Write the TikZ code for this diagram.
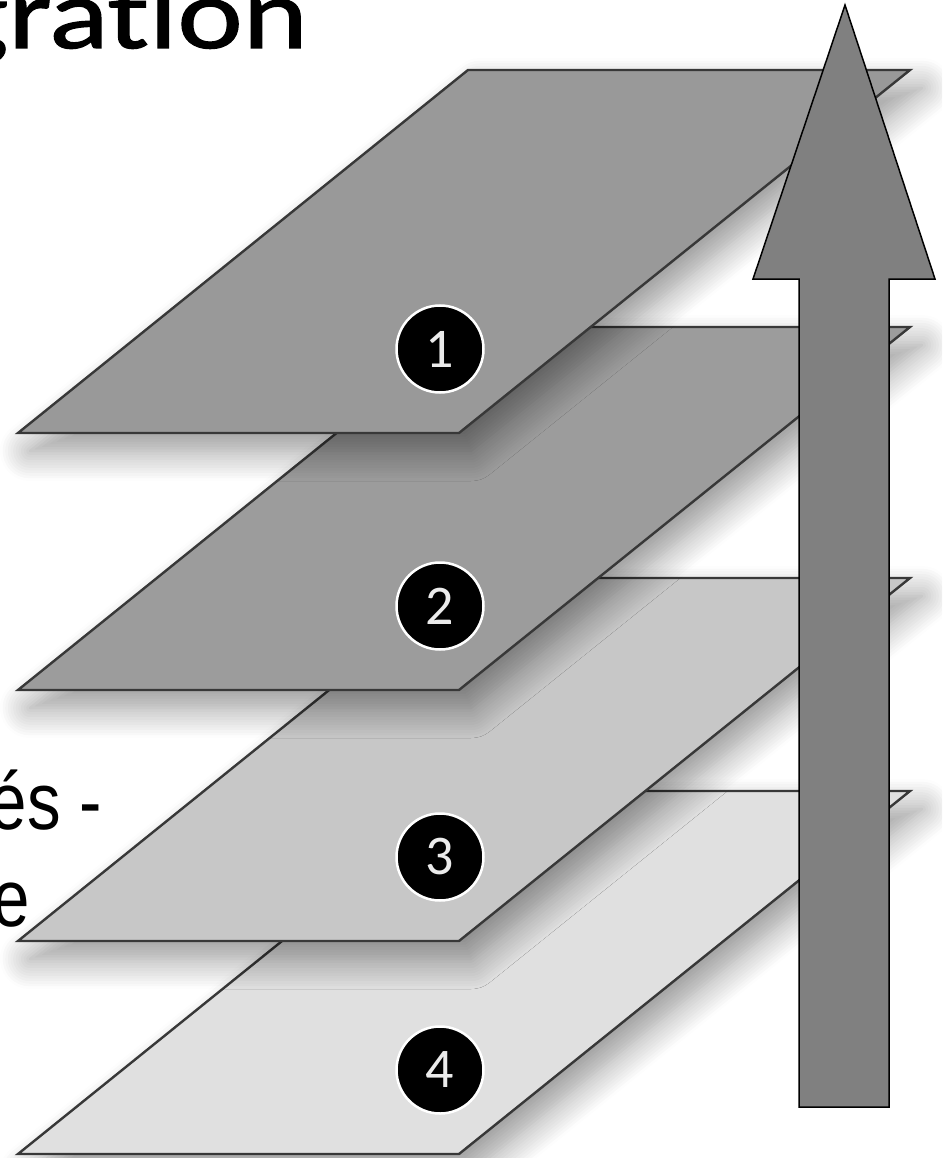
\documentclass[tikz,border=0pt]{standalone}
\usepackage{fontspec}
\setmainfont{Liberation Sans}
\newfontfamily\titulofont[FakeStretch=1.24, FakeBold=1.2, Ligatures=NoCommon]{Carlito}
\newfontfamily\cuerpofont[FakeStretch=0.83]{Liberation Sans}
\newfontfamily\cifrafont{Carlito}
\usetikzlibrary{shadows.blur}

\begin{document}
\begin{tikzpicture}[
	x=1pt, y=-1pt,
	% capas con sombra difusa
	capa/.style={draw=black!78, line width=2.4pt, line join=miter,
		blur shadow={shadow xshift=12pt, shadow yshift=-18pt, shadow blur radius=30pt,
			shadow blur steps=12, shadow opacity=42}},
	numero/.style={circle, fill=black, draw=white, line width=2.5pt, minimum size=87pt, inner sep=0pt,
		text=black!8, font=\cifrafont\fontsize{56}{56}\selectfont},
	flecha/.style={fill=black!50, draw=black, line width=1.5pt, line join=miter},
	texto/.style={anchor=base east, inner sep=0pt}
	]
	\useasboundingbox (0,0) rectangle (942,1158);
	\clip (0,0) rectangle (942,1158);
	
	\node[texto, font=\titulofont\fontsize{100}{110}\selectfont] (titulo) at (308,48) {gration};
	\node[texto, font=\cuerpofont\fontsize{81}{96}\selectfont] (linea1) at (102,829) {és -};
	\node[texto, font=\cuerpofont\fontsize{81}{96}\selectfont] (linea2) at (30,926) {e};
	
	% capas, de abajo hacia arriba
	\foreach \y/\c/\n in {791/black!12/4, 578/black!22/3, 327/black!39/2, 70/black!40/1}{
		\filldraw[capa, fill=\c] (18,\y+363) -- (459,\y+363) -- (910,\y) -- (468,\y) -- cycle;
		\node[numero] (n\n) at (440,\y+279) {\n};
	}
	
	% flecha hacia arriba
	\filldraw[flecha] (845,5) -- (935,279) -- (889,279) -- (889,1107) -- (799,1107) -- (799,279) -- (753,279) -- cycle;
	
\end{tikzpicture}
\end{document}
